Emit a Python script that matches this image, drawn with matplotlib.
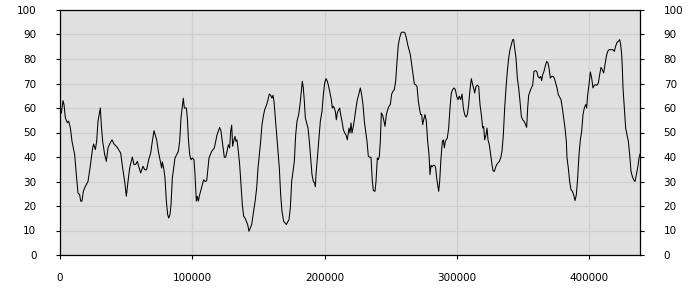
import matplotlib
matplotlib.use('Agg')
import matplotlib.pyplot as plt

# series (x position, value)
xs = [1000, 2268, 3024, 4032, 5544, 6552, 7812, 9072, 11088, 12348, 13608, 14868,
      15624, 16632, 17640, 19152, 21168, 22680, 24696, 25452, 26712, 27720, 28728,
      29988, 30492, 31248, 32256, 33768, 35028, 36288, 37548, 39312, 40824, 42588,
      44352, 45864, 47376, 48888, 50148, 51408, 52668, 53928, 54684, 55944, 57204,
      58464, 59472, 60984, 62748, 64008, 65520, 67032, 68544, 69804, 71064,
      73080, 74340, 75852, 76860, 77364, 78372, 79380, 80388, 81396, 82152, 83160,
      83916, 84924, 85932, 86940, 88200, 89460, 90468, 91476, 92484, 93240, 93996,
      95508, 96264, 97020, 98028, 99036, 100044, 101304, 102060, 103068, 103824,
      104580, 105588, 106596, 107604, 108612, 109620, 110880, 111636, 112644,
      113652, 114660, 115668, 116676, 117684, 118692, 119700, 120708, 121716,
      122724, 123480, 124236, 125244, 126252, 127260, 128268, 129024, 129780,
      130536, 131292, 132300, 133056, 133812, 134820, 135828, 136836, 137844,
      138852, 139860, 140868, 141876, 142884, 143892, 144900,
      146412, 147672, 148680, 149688, 150696, 151704, 152712, 153720, 154728,
      156240, 157248, 158256, 159264, 160272, 161028, 161784, 162792, 163800,
      164808, 165816, 166824, 167832, 169092, 170352, 171108, 172116, 173124,
      174132, 175140, 176148, 177156, 178164, 179172, 180432, 181440, 182448,
      183204, 183960, 184716, 185472, 186480, 187488, 188496, 189504, 190512,
      191520, 192528, 193032, 193536, 194544, 195552, 196812, 198072, 199080,
      200088, 201096, 202104, 203112, 204120, 205128, 205884, 206640, 207396,
      208152, 208908, 209664, 210672, 211428, 212184, 213192, 214200, 215208,
      216216, 217224,
      218484, 219240, 219996, 220752, 221760, 222768, 223776, 224784, 225792,
      227052, 228060, 229068, 230076, 231084, 232092, 233100, 234108, 235116,
      236124, 236880, 238140, 238896, 239904, 240660, 241416, 242172, 242928,
      243936, 244944, 245700, 246708, 247716, 248724, 249732, 250740, 251748,
      252756, 253764, 254772, 255780, 256788, 257796, 258804, 260064, 260820,
      261828, 262836, 263844, 264852, 265860, 266868, 267876, 268884, 269892,
      270900, 271908, 272664, 273420, 274176, 274932, 275940, 276948, 277956,
      278964, 279720, 280476, 281232, 282240, 283248, 283998, 284760, 285516,
      286272, 287028, 288036, 289044, 289800, 290556, 291312,
      292824, 293832, 294840, 295848, 296856, 297864, 298872, 299880, 300888,
      301896, 302904, 303912, 304920, 305928, 306936, 307944, 308952, 309960,
      310968, 311976, 312984, 313488, 314496, 315504, 316512, 317520, 318528,
      319536, 320292, 321048, 322056, 322812, 323568, 324576, 325584, 326592,
      327348, 328356, 329112, 330120, 331128, 332136, 333144, 334152, 335160,
      336168, 337176, 338184, 339192, 340200, 341208, 342216, 342972, 343728,
      344736, 345744, 346752, 347760, 348768, 349776, 350784, 351792, 352800,
      353556, 354312, 355320, 356328, 357336, 358344, 359352, 360360, 361368,
      362376, 363384, 364140, 364896, 365904,
      367164, 367920, 368928, 369684, 370692, 371700, 372708, 373716, 374724,
      375732, 376740, 377748, 378756, 379764, 380772, 381780, 382788, 383292,
      384300, 385308, 386316, 387324, 388332, 389340, 390348, 391356, 392364,
      393372, 394380, 395388, 396396, 397404, 398160, 398916, 399924, 400932,
      401940, 402948, 403956, 404964, 405972, 406980, 407988, 408996, 410004,
      411012, 412020, 413028, 414036, 415044, 416052, 417060, 418068, 419076,
      420084, 421092, 422100, 423108, 423864, 424620, 425124, 425628, 426636,
      427644, 428652, 429660, 430668, 431676, 432684, 433692, 434700, 435708,
      436716, 437724, 438480]

ys = [58, 63, 61.4, 56, 54, 54.6, 52, 46.4, 41, 32.8, 25.3, 24.6,
      22, 22, 26, 28, 30, 35.5, 43.7, 45.3, 43, 46.4, 54.6,
      58.6, 60, 53, 46.4, 41, 38.2, 43.7, 45.3, 47, 45.3, 44.4,
      43, 41.6, 35.5, 30, 24, 30, 35.5, 38.2, 40, 36.9, 37,
      38.2, 36.2, 33.5, 36.2, 34.8, 34.8, 38.9, 41.6, 46.4, 50.7,
      47, 42.3, 38.2, 35.5, 38, 35.5, 31.4, 22, 16.5, 15.1, 16.5,
      20.5, 31.4, 35.5, 39.6, 41, 42.3, 46.4, 56, 60.7, 64, 60,
      60, 56, 47.8, 41, 38.9, 39.6, 38.9, 32.8, 22, 24,
      22, 24.6, 26.7, 28.7, 30.7, 30, 30.3, 34.1, 39.6,
      41, 42.3, 43, 43.7, 46.4, 49, 50.5, 52.1, 50.5,
      46.4, 43, 39.9, 39.9, 42.3, 45, 43.7, 50.5, 53,
      44.4, 46.4, 48.4, 46.4, 47, 42.3, 36.9, 28.7, 20.5,
      15.8, 15.1, 13.7, 12.4, 9.7, 11, 12.4,
      17.8, 22.6, 27.3, 35.5, 41, 46.4, 53.2, 56.6, 59.3,
      61.4, 63.4, 65.7, 65.2, 64, 65.2, 62.7, 56, 49,
      42.3, 35.5, 24.6, 17.8, 13.7, 13, 12.4, 13.5, 14.4,
      19.2, 30, 34.1, 38.2, 49, 54.6, 57.3, 61.4, 66.8,
      70.9, 68.2, 62.7, 56, 53.9, 51.8, 46.4, 39.6, 32.8,
      30, 29.4, 28, 32.8, 39.6, 46.4, 54.6, 58.6, 65.4,
      70.2, 72, 70.9, 68.8, 66, 63.4, 60, 60.7, 60,
      58.6, 55.2, 58, 59.3, 60, 57.3, 54.6, 51.2, 49.8,
      49, 47,
      51.8, 49.8, 53.9, 49.8, 52.5, 56, 60, 63.4, 65.4,
      68.2, 65.4, 61.4, 54.6, 50.5, 46.4, 40.3, 39.9, 39.9,
      30, 26.3, 26, 30, 39.6, 38.9, 40.3, 46.4, 58,
      57, 54.6, 52.5, 57.3, 59.3, 60.7, 61.4, 65.7, 66.8,
      67.5, 70.9, 79, 85.9, 88.6, 90.6, 91, 90.9, 90.6,
      88.6, 85.9, 83.8, 81.8, 77.7, 73.6, 69.8, 69.5, 68.8,
      62.7, 59.3, 57.3, 57.3, 53.2, 55.2, 57.3, 54.6, 46.4,
      41, 32.8, 36.6, 36, 36.6, 36.6, 35.5, 31.4, 28.7,
      26, 30, 39.6, 46.4, 47, 43.7, 46.4,
      47.8, 51.8, 60, 66.1, 67.5, 68.2, 67.5, 64.8, 63.4,
      64.8, 63.4, 65.7, 60, 57.3, 56.3, 57.3, 61.4, 67.5,
      72, 69.5, 67.5, 66.1, 68.8, 69.3, 68.8, 61.4, 57.3,
      51.8, 52.5, 47, 49, 51.8, 47, 45, 41, 36.9,
      34.4, 34.1, 35.5, 36.9, 37.6, 38.2, 39.6, 42.3, 49,
      60, 68.2, 75, 80.4, 83.8, 85.9, 87.9, 87.9, 84.5,
      80.4, 72.2, 68.2, 62.7, 56.6, 55.2, 54.6, 53.5, 52.1,
      60, 65.2, 66.8, 68.2, 69.3, 75, 75.2, 75, 72.9,
      72.2, 72.9, 71.2, 73.6, 75,
      77.7, 79, 78.4, 76.3, 72.2, 72.9, 72.9, 72.2, 70.2,
      68.2, 65.4, 64.4, 63.4, 60, 56, 51.8, 46.4, 39.6,
      35.5, 30, 26.7, 26, 24.6, 22.2, 24.6, 31.4, 41,
      47, 50.5, 57.3, 60, 61.4, 60, 65.4, 69.5, 74.7,
      72.2, 68.2, 69.3, 69.5, 69.3, 70.2, 73.6, 76.6, 75.6,
      74.3, 77.7, 81.1, 83.1, 83.8, 83.8, 83.8, 83.8, 83.1,
      85.2, 86.8, 87.2, 87.9, 85.9, 81.8, 76.3, 68.2, 60,
      51.8, 49, 46.4, 41, 34.1, 32.1, 30.7, 30, 32.8,
      35.5, 39.6, 41.2]

y_ticks = [0, 10, 20, 30, 40, 50, 60, 70, 80, 90, 100]
x_ticks = [0, 100000, 200000, 300000, 400000]

fig = plt.figure(figsize=(7, 3), dpi=100)
ax = fig.add_axes([60 / 700, 45 / 300, 580 / 700, 245 / 300])
ax.set_facecolor('#e0e0e0')

ax.plot(xs, ys, color='black', linewidth=0.75)

ax.set_xlim(0, xs[-1])
ax.set_ylim(0, 100)
ax.set_xticks(x_ticks)
ax.set_yticks(y_ticks)
ax.set_xticklabels([str(v) for v in x_ticks])

ax.grid(True, color='#cfcfcf', linewidth=0.9)
ax.set_axisbelow(True)

for s in ax.spines.values():
    s.set_color('black')
    s.set_linewidth(0.9)

ax.tick_params(axis='y', which='both', left=True, right=True, labelleft=True,
               labelright=True, direction='out', length=3, width=0.8,
               pad=14, labelsize=7.5)
ax.tick_params(axis='x', direction='out', length=3, width=0.8, pad=10,
               labelsize=7.5)

fig.savefig('out.png', dpi=100)
